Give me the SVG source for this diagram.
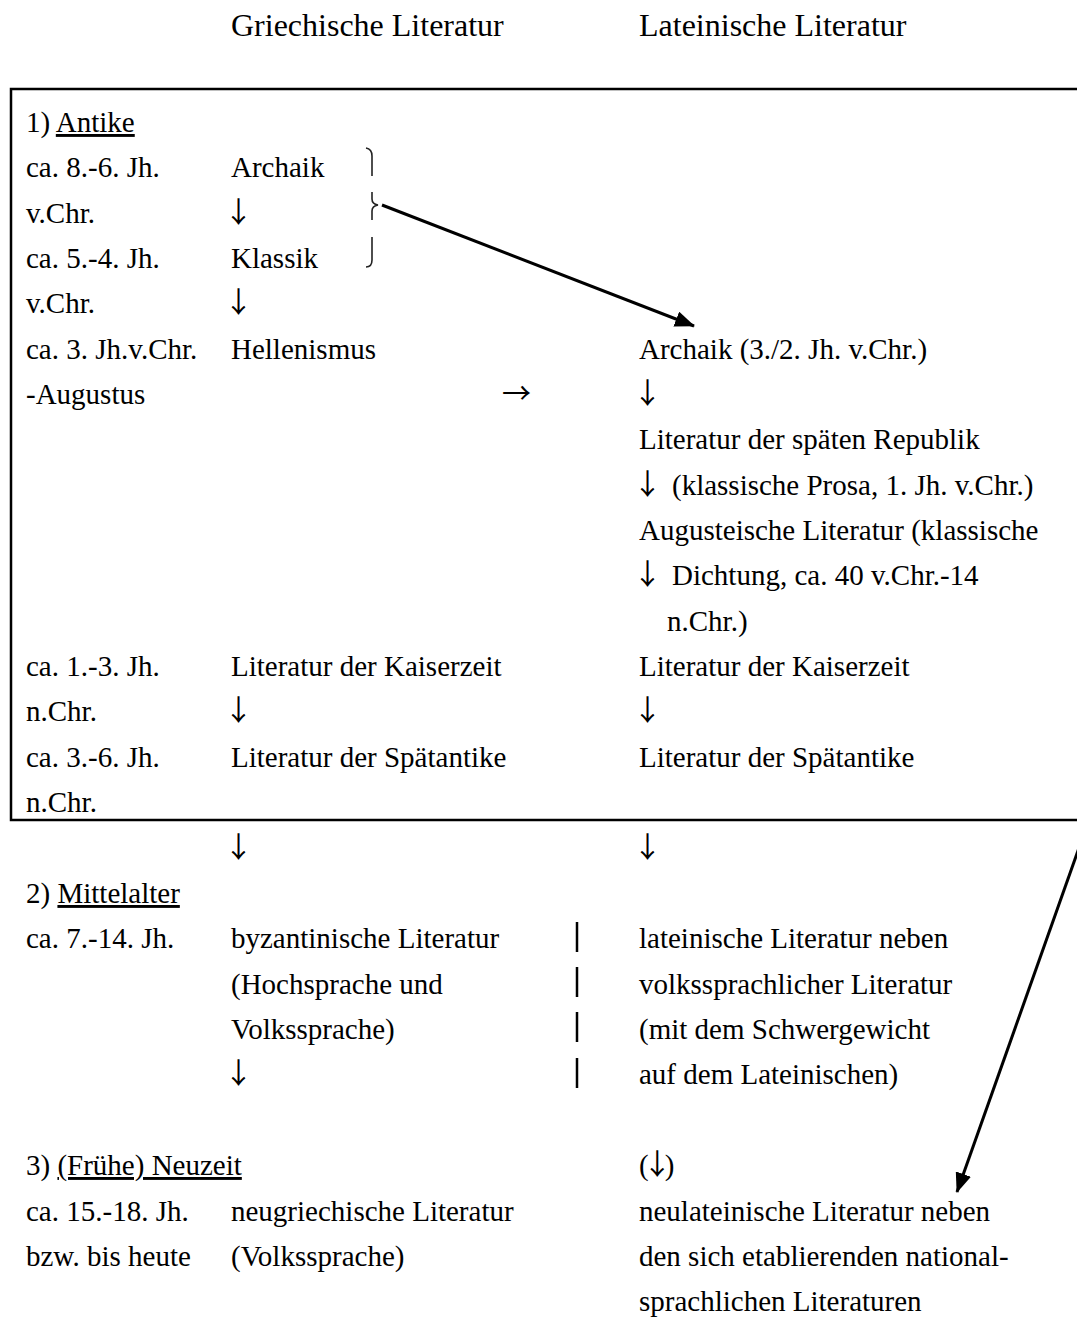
<svg xmlns="http://www.w3.org/2000/svg" width="1077" height="1317" viewBox="0 0 1077 1317">
<defs>
<style>
text{font-family:"Liberation Serif","Times New Roman",serif;font-size:29px;fill:#000}
.h{font-size:32px}
.u{text-decoration:underline}
.arr{font-family:"Noto Sans CJK JP","DejaVu Sans",sans-serif;font-size:29px}
.conn{stroke:#000;stroke-width:3;fill:none}
.brace{stroke:#222;stroke-width:1.6;fill:none}
.bar{stroke:#000;stroke-width:2.5}
</style>
<marker id="ah2" viewBox="0 0 20 16" refX="19" refY="8" markerWidth="20" markerHeight="16" orient="auto" markerUnits="userSpaceOnUse">
<path d="M0,0 L20,8 L0,16 z" fill="#000"/>
</marker>
</defs>
<g id="headers">
<text class="h" x="231" y="36">Griechische Literatur</text>
<text class="h" x="639" y="36">Lateinische Literatur</text>
</g>
<g id="antike-box">
<rect x="11" y="89" width="1090" height="731" fill="none" stroke="#000" stroke-width="2.5"/>
</g>
<g id="antike">
<text x="26" y="132">1) <tspan class="u">Antike</tspan></text>
<text x="26" y="177">ca. 8.-6. Jh.</text>
<text x="231" y="177">Archaik</text>
<text x="26" y="223">v.Chr.</text>
<text class="arr" x="224" y="223">↓</text>
<text x="26" y="268">ca. 5.-4. Jh.</text>
<text x="231" y="268">Klassik</text>
<text x="26" y="313">v.Chr.</text>
<text class="arr" x="224" y="313">↓</text>
<text x="26" y="359">ca. 3. Jh.v.Chr.</text>
<text x="231" y="359">Hellenismus</text>
<text x="26" y="404">-Augustus</text>
<text class="arr" x="502" y="404">→</text>
</g>
<g id="latin-antike">
<text x="639" y="359">Archaik (3./2. Jh. v.Chr.)</text>
<text class="arr" x="633" y="404">↓</text>
<text x="639" y="449">Literatur der späten Republik</text>
<text class="arr" x="633" y="495">↓</text>
<text x="672" y="495">(klassische Prosa, 1. Jh. v.Chr.)</text>
<text x="639" y="540">Augusteische Literatur (klassische</text>
<text class="arr" x="633" y="585">↓</text>
<text x="672" y="585">Dichtung, ca. 40 v.Chr.-14</text>
<text x="667" y="631">n.Chr.)</text>
</g>
<g id="kaiserzeit">
<text x="26" y="676">ca. 1.-3. Jh.</text>
<text x="231" y="676">Literatur der Kaiserzeit</text>
<text x="639" y="676">Literatur der Kaiserzeit</text>
<text x="26" y="721">n.Chr.</text>
<text class="arr" x="224" y="721">↓</text>
<text class="arr" x="633" y="721">↓</text>
<text x="26" y="767">ca. 3.-6. Jh.</text>
<text x="231" y="767">Literatur der Spätantike</text>
<text x="639" y="767">Literatur der Spätantike</text>
<text x="26" y="812">n.Chr.</text>
</g>
<g id="mittelalter">
<text class="arr" x="224" y="858">↓</text>
<text class="arr" x="633" y="858">↓</text>
<text x="26" y="903">2) <tspan class="u">Mittelalter</tspan></text>
<text x="26" y="948">ca. 7.-14. Jh.</text>
<text x="231" y="948">byzantinische Literatur</text>
<text x="231" y="994">(Hochsprache und</text>
<text x="231" y="1039">Volkssprache)</text>
<text class="arr" x="224" y="1084">↓</text>
<text x="639" y="948">lateinische Literatur neben</text>
<text x="639" y="994">volkssprachlicher Literatur</text>
<text x="639" y="1039">(mit dem Schwergewicht</text>
<text x="639" y="1084">auf dem Lateinischen)</text>
</g>
<g id="separator">
<line class="bar" x1="577" y1="922" x2="577" y2="952"/>
<line class="bar" x1="577" y1="967" x2="577" y2="997"/>
<line class="bar" x1="577" y1="1012" x2="577" y2="1042"/>
<line class="bar" x1="577" y1="1058" x2="577" y2="1088"/>
</g>
<g id="neuzeit">
<text x="26" y="1175">3) <tspan class="u">(Frühe) Neuzeit</tspan></text>
<text x="639" y="1175">(<tspan class="arr" dx="-6">↓</tspan><tspan dx="-7">)</tspan></text>
<text x="26" y="1221">ca. 15.-18. Jh.</text>
<text x="231" y="1221">neugriechische Literatur</text>
<text x="639" y="1221">neulateinische Literatur neben</text>
<text x="26" y="1266">bzw. bis heute</text>
<text x="231" y="1266">(Volkssprache)</text>
<text x="639" y="1266">den sich etablierenden national-</text>
<text x="639" y="1311">sprachlichen Literaturen</text>
</g>
<g id="brace">
<path class="brace" d="M366,148 Q372,149 372,156 L372,176"/>
<path class="brace" d="M372,192 L372,199 Q372,204 378,205 Q372,206 372,211 L372,220"/>
<path class="brace" d="M372,237 L372,260 Q372,267 366,267"/>
</g>
<g id="connectors">
<line class="conn" x1="382" y1="205" x2="694" y2="326" marker-end="url(#ah2)"/>
<line class="conn" x1="1080" y1="845" x2="957" y2="1192" marker-end="url(#ah2)"/>
</g>
</svg>
